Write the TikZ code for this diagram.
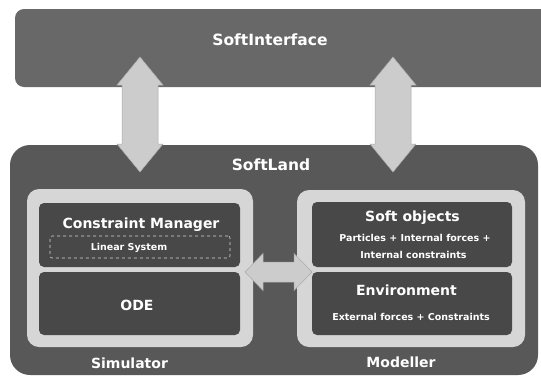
\documentclass[tikz,border=0pt]{standalone}
\usepackage{fontspec}
\setmainfont{DejaVu Sans}
\begin{document}
\begin{tikzpicture}[x=1pt,y=-1pt,
  bar/.style={fill=barc, draw=none, rounded corners=9pt, inner sep=0pt},
  land/.style={fill=landc, draw=none, rounded corners=20pt, inner sep=0pt},
  frame/.style={fill=framec, draw=none, rounded corners=12pt, inner sep=0pt},
  box/.style={fill=boxc, draw=none, rounded corners=5pt, inner sep=0pt},
  dbox/.style={draw=framec, dashed, line width=0.6pt, rounded corners=2pt, inner sep=0pt},
  big/.style={text=white, font=\fontsize{14}{16}\selectfont\bfseries, inner sep=0pt},
  title/.style={text=white, font=\fontsize{15.5}{18}\selectfont\bfseries, inner sep=0pt},
  small/.style={text=white, font=\fontsize{9.5}{11}\selectfont\bfseries, inner sep=0pt},
  blockarrow/.style={fill=arrowc, draw=arrowb, line width=0.5pt},
]
\definecolor{barc}{RGB}{104,104,104}
\definecolor{landc}{RGB}{88,88,88}
\definecolor{boxc}{RGB}{72,72,72}
\definecolor{framec}{RGB}{214,214,214}
\definecolor{arrowc}{RGB}{204,204,204}
\definecolor{arrowb}{RGB}{170,170,170}
\useasboundingbox (0,0) rectangle (541,378);
\fill[white] (0,0) rectangle (541,378);

% top bar
\node[bar, minimum width=540pt, minimum height=78pt] (iface) at (285,48) {};
\node[title] (ifacelbl) at (270,40) {SoftInterface};

% SoftLand
\node[land, minimum width=528pt, minimum height=230pt] (land) at (274,260) {};
\node[title] (landlbl) at (271,165) {SoftLand};

% Simulator
\node[frame, minimum width=226pt, minimum height=158pt] (sim) at (140,268) {};
\node[box, minimum width=201pt, minimum height=64pt] (cm) at (139.5,235) {};
\node[box, minimum width=201pt, minimum height=63pt] (ode) at (139.5,303.5) {};
\node[dbox, minimum width=180pt, minimum height=22pt] (lin) at (140,247) {};
\node[big] (cmlbl) at (141,225) {Constraint Manager};
\node[small] (linlbl) at (129,248) {Linear System};
\node[big] (odelbl) at (137,305) {ODE};
\node[big] (simlbl) at (129.5,363) {Simulator};

% Modeller
\node[frame, minimum width=228pt, minimum height=157pt] (mod) at (411,268.5) {};
\node[box, minimum width=200pt, minimum height=65pt] (soft) at (412,234.5) {};
\node[box, minimum width=200pt, minimum height=63pt] (env) at (412,303.5) {};
\node[big] (softlbl) at (412.5,218) {Soft objects};
\node[small] (softa) at (415,238) {Particles + Internal forces +};
\node[small] (softb) at (413.5,255) {Internal constraints};
\node[big] (envlbl) at (406.5,290) {Environment};
\node[small] (enva) at (411,317) {External forces + Constraints};
\node[big] (modlbl) at (401,362) {Modeller};

% vertical double arrows
\foreach \cx/\nm in {140/la, 393/ra}{
  \coordinate (\nm top) at (\cx,57);
  \coordinate (\nm bot) at (\cx,172);
  \fill[blockarrow] (\nm top) -- ++(23,28) -- ++(-5,0) -- ++(0,59) -- ++(5,0)
     -- (\nm bot) -- ++(-23,-28) -- ++(5,0) -- ++(0,-59) -- ++(-5,0) -- cycle;
}
% horizontal double arrow
\coordinate (hl) at (245,272);
\coordinate (hr) at (312,272);
\fill[blockarrow] (hl) -- ++(18,-18.5) -- ++(0,8.5) -- ++(31,0) -- ++(0,-8.5)
   -- (hr) -- ++(-18,18.5) -- ++(0,-8.5) -- ++(-31,0) -- ++(0,8.5) -- cycle;
\end{tikzpicture}
\end{document}
